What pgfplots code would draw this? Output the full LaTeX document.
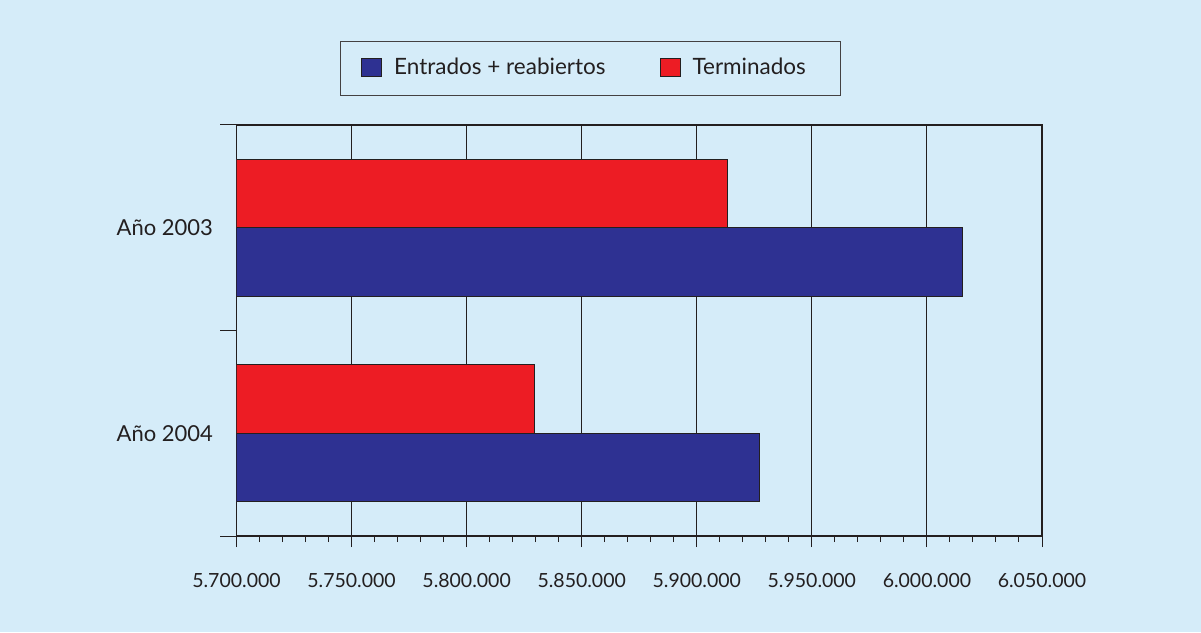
\documentclass[border=0pt]{standalone}
\usepackage{fontspec}
\setmainfont{Lato}
\usepackage{pgfplots}
\pgfplotsset{compat=1.18}
\definecolor{bg}{RGB}{213,236,249}
\definecolor{barblue}{RGB}{46,49,146}
\definecolor{barred}{RGB}{237,28,36}
\definecolor{ink}{RGB}{35,31,32}

\begin{document}
\begin{tikzpicture}[x=1pt,y=1pt]
% background panel and legend frame
\fill[bg] (0,0) rectangle (1201,632);
\draw[ink!85, line width=1pt] (340,590) rectangle (840,536);
\begin{axis}[
    at={(236.5pt,96pt)}, anchor=south west,
    scale only axis, width=805.5pt, height=411pt,
    xmin=5700000, xmax=6050000, ymin=0.5, ymax=2.5,
    xtick={5700000,5750000,5800000,5850000,5900000,5950000,6000000,6050000},
    minor x tick num=4,
    scaled x ticks=false,
    xticklabel style={/pgf/number format/fixed, /pgf/number format/1000 sep={.}},
    /pgf/number format/assume math mode=true,
    ytick={1,2}, yticklabels={Año 2004, Año 2003},
    ytick style={draw=none},
    extra y ticks={0.5,1.5,2.5}, extra y tick labels={},
    extra y tick style={major tick length=16pt, ytick style={draw=ink}},
    tick pos=left, tick align=outside,
    major tick length=11pt, minor tick length=6pt,
    tick style={ink, line width=1pt},
    xmajorgrids, major grid style={ink, line width=1pt},
    axis line style={ink, line width=1.2pt},
    tick label style={text=ink, font=\fontsize{19.5}{23}\selectfont},
    xticklabel style={yshift=-23pt},
    yticklabel style={font=\fontsize{22}{26}\selectfont, xshift=-9pt},
    legend columns=2,
    legend style={draw=none, fill=none, inner sep=0pt, at={(0.15456,1.1411)}, anchor=west,
        font=\fontsize{22.5}{26}\selectfont, text=ink, cells={anchor=west},
        nodes={inner xsep=0pt},
        /tikz/every odd column/.append style={column sep=12pt},
        /tikz/every even column/.append style={column sep=54pt}},
    legend image code/.code={\draw[#1, draw=ink, line width=1pt] (0pt,-9pt) rectangle (20pt,9pt);},
]
\addplot[xbar, bar width=68.5pt, bar shift=-34.25pt, fill=barblue, draw=ink, line width=1pt]
    coordinates {(6015400,2) (5927200,1)};
\addplot[xbar, bar width=68.5pt, bar shift=34.25pt, fill=barred, draw=ink, line width=1pt]
    coordinates {(5913300,2) (5829450,1)};
\legend{Entrados + reabiertos, Terminados}
\end{axis}
\end{tikzpicture}
\end{document}
